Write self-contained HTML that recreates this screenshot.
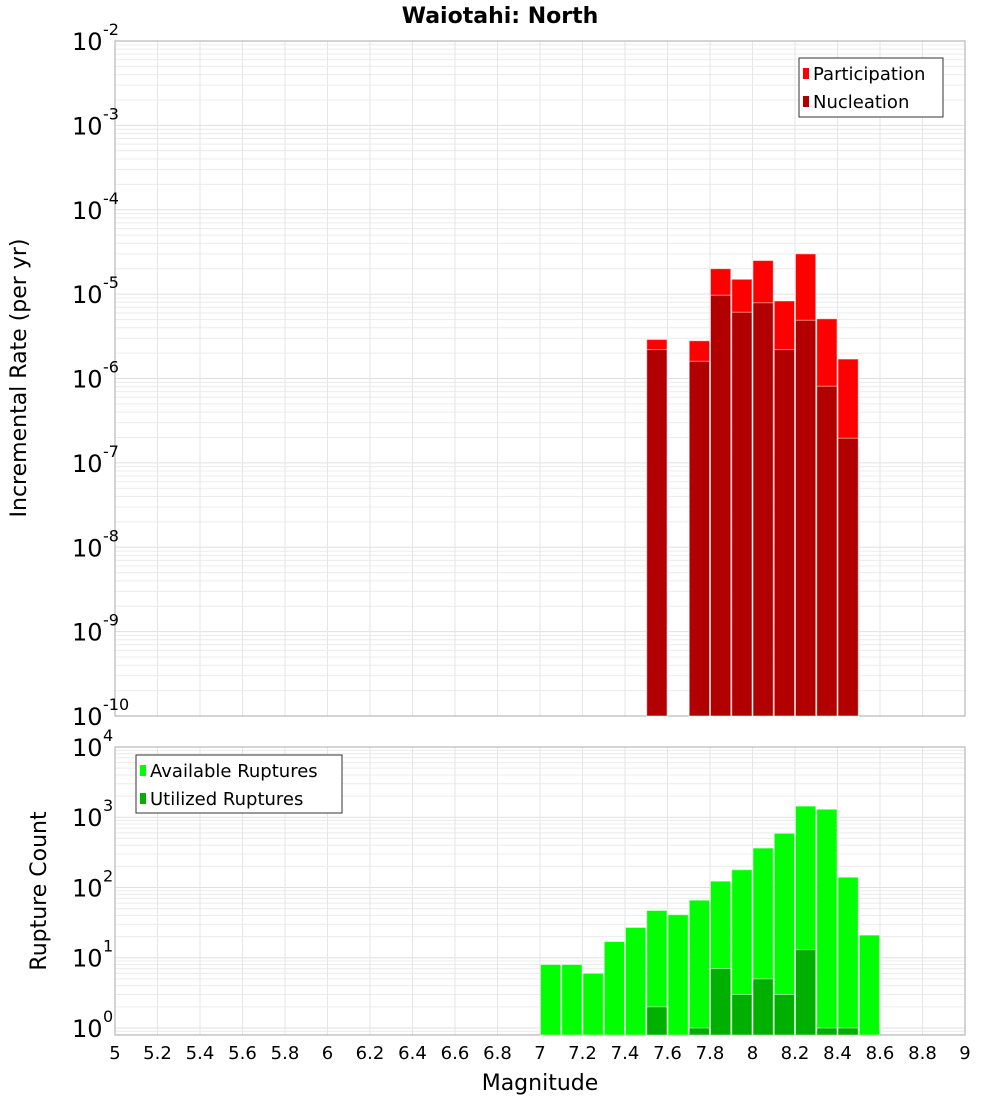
<!DOCTYPE html>
<html><head><meta charset="utf-8"><style>
body{margin:0;background:#fff;}
svg{display:block;font-family:"DejaVu Sans","Liberation Sans",sans-serif;}
</style></head><body>
<svg id="c" width="1000" height="1100" xmlns="http://www.w3.org/2000/svg"></svg>
<script>
const mags = [7.0,7.1,7.2,7.3,7.4,7.5,7.6,7.7,7.8,7.9,8.0,8.1,8.2,8.3,8.4,8.5];
const participation = [0,0,0,0,0,2.9e-6,0,2.8e-6,2.0e-5,1.5e-5,2.5e-5,8.3e-6,3.0e-5,5.1e-6,1.7e-6,0];
const nucleation = [0,0,0,0,0,2.2e-6,0,1.6e-6,9.7e-6,6.1e-6,7.9e-6,2.2e-6,4.9e-6,8.1e-7,1.96e-7,0];
const available = [8,8,6,17,27,47,41,66,123,179,364,590,1440,1300,140,21];
const utilized = [0,0,0,0,0,2,0,1,7,3,5,3,13,1,1,0];
const xTicks = [5,5.2,5.4,5.6,5.8,6,6.2,6.4,6.6,6.8,7,7.2,7.4,7.6,7.8,8,8.2,8.4,8.6,8.8,9];

const svg = document.getElementById('c');
const NS = 'http://www.w3.org/2000/svg';
function el(tag, attrs, parent){const e=document.createElementNS(NS,tag);for(const k in attrs)e.setAttribute(k,attrs[k]);(parent||svg).appendChild(e);return e;}
const X0=115,X1=965;
const xs = m => X0 + (m-5)/4*(X1-X0);
const T={top:41,bot:716,lo:-10,hi:-2};
const B={top:747,bot:1035,lo:-0.1,hi:4};
const yT = v => T.bot - (Math.log10(v)-T.lo)/(T.hi-T.lo)*(T.bot-T.top);
const yB = v => B.bot - (Math.log10(v)-B.lo)/(B.hi-B.lo)*(B.bot-B.top);

function grid(P, yf){
  const g=el('g',{});
  
  
  for(let d=Math.floor(P.lo); d<P.hi; d++){
    for(let k=1;k<10;k++){
      const v=k*Math.pow(10,d); const lv=Math.log10(v);
      if(lv<P.lo||lv>P.hi) continue;
      const y=yf(v);
      el('line',{x1:X0,x2:X1,y1:y,y2:y,stroke:k==1?'#e0e0e0':'#ececec','stroke-width':1},g);
    }
  }
  xTicks.forEach(t=>{el('line',{x1:xs(t),x2:xs(t),y1:P.top,y2:P.bot,stroke:'#e6e6e6','stroke-width':1},g);});
  const f=el('rect',{x:X0,y:P.top,width:X1-X0,height:P.bot-P.top,fill:'none',stroke:'#aaa','stroke-width':1});
  
  
}
grid(T,yT); grid(B,yB);

function bars(vals, yf, P, color, name){
  vals.forEach((v,i)=>{
    if(v<=0) return;
    const x=xs(mags[i]), w=xs(mags[i]+0.1)-x;
    const y=yf(v);
    const r=el('rect',{x:x+0.5,y:y,width:w-1,height:P.bot-y,fill:color,stroke:'#fff','stroke-opacity':0.5,'stroke-width':1});
    
    
  });
}
bars(participation,yT,T,'#ff0000','participation');
bars(nucleation,yT,T,'#b20000','nucleation');
bars(available,yB,B,'#00ff00','available');
bars(utilized,yB,B,'#00b000','utilized');

// y tick labels
function ylabels(P, yf, from, to, name){
  for(let d=from; d<=to; d++){
    const y=yf(Math.pow(10,d));
    const t=el('text',{x:100,y:y+9,'text-anchor':'end','font-size':24,fill:'#000'});
    
    
    const a=document.createElementNS(NS,'tspan');a.textContent='10';t.appendChild(a);
    const b=document.createElementNS(NS,'tspan');b.setAttribute('dy','-14');b.setAttribute('font-size','16');b.textContent=String(d);t.appendChild(b);
  }
}
// right-align superscripts: place base and exponent separately
function ylabels2(yf, from, to, name){
  for(let d=from; d<=to; d++){
    const y=yf(Math.pow(10,d));
    const g=el('g',{});
    
    
    const t=el('text',{x:102,y:y+9,'text-anchor':'start','font-size':24,fill:'#000'},g);
    t.textContent='10';
    const e=el('text',{x:102,y:y-6,'text-anchor':'start','font-size':16,fill:'#000'},g);
    e.textContent=String(d);
    // shift: base ends at ~102-? We position base right edge at ~101
    t.setAttribute('x',72); e.setAttribute('x',103 - (String(d).length>1? (String(d).length-1)*0:0));
    e.setAttribute('text-anchor','start');
  }
}
ylabels2(yT,-10,-2,'rate-y');
ylabels2(yB,0,4,'count-y');

// x tick labels
xTicks.forEach(t=>{
  const tx=el('text',{x:xs(t),y:1059,'text-anchor':'middle','font-size':18,fill:'#000'});
  tx.textContent=String(t);
  
  
});

function txt(s,attrs,name){const t=el('text',attrs);t.textContent=s;return t;}
txt('Waiotahi: North',{x:500,y:23,'text-anchor':'middle','font-size':22,'font-weight':'bold'},'chart-title');
txt('Magnitude',{x:540,y:1090,'text-anchor':'middle','font-size':22},'x-axis-title');
txt('Incremental Rate (per yr)',{x:0,y:0,'text-anchor':'middle','font-size':22,transform:'translate(26,378) rotate(-90)'},'top-y-axis-title');
txt('Rupture Count',{x:0,y:0,'text-anchor':'middle','font-size':22,transform:'translate(46,891) rotate(-90)'},'bottom-y-axis-title');

function legend(x,y,w,h,items,name){
  const g=el('g',{});
  
  
  el('rect',{x:x,y:y,width:w,height:h,fill:'#fff',stroke:'#333','stroke-width':1},g);
  items.forEach((it,i)=>{
    const cy=y+15+i*28;
    el('rect',{x:x+4,y:cy-5,width:6,height:11,fill:it[1]},g);
    const t=el('text',{x:x+14,y:cy+7,'font-size':18,fill:'#000'},g);t.textContent=it[0];
  });
}
legend(799,58,144,59,[['Participation','#ff0000'],['Nucleation','#b20000']],'rate-legend');
legend(136,755,206,58,[['Available Ruptures','#00ff00'],['Utilized Ruptures','#00b000']],'count-legend');
</script>
</body></html>
